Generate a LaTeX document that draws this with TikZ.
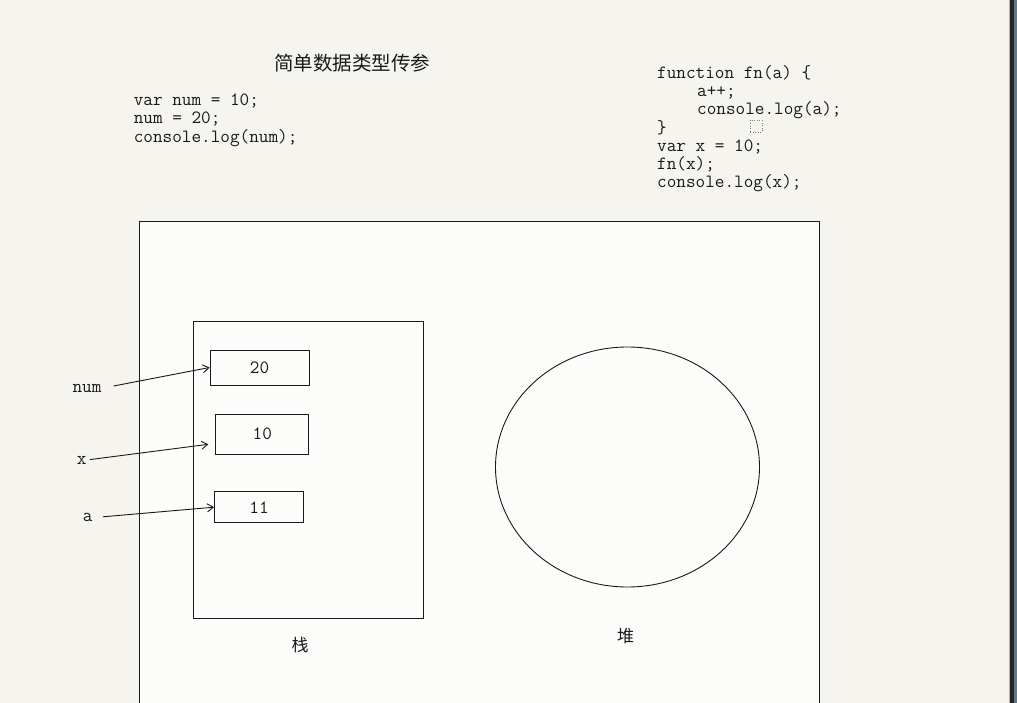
\documentclass[tikz,border=0pt]{standalone}
\usepackage{fontspec}
\newfontfamily\cjk{Noto Sans CJK SC}
\usetikzlibrary{arrows.meta, shapes.geometric}
\definecolor{paper}{RGB}{245,244,238}
\definecolor{sheet}{RGB}{252,253,250}
\definecolor{ink}{RGB}{25,25,25}
\definecolor{frame}{RGB}{100,118,140}
\newcommand\codefont{\ttfamily\addfontfeatures{FakeBold=0.6}\fontsize{18.7}{18.3}\selectfont}
\tikzset{
    >={Straight Barb[length=6pt, width=8pt]}, % open arrow heads
    every node/.style={text=ink},
    code/.style={anchor=base west, inner sep=0pt, font=\codefont}, % one line of code
    cell/.style={draw=ink, fill=sheet, font=\codefont}, % a value on the stack
    var/.style={anchor=base, inner sep=0pt, font=\codefont}, % variable name
    zh/.style={font=\cjk\fontsize{17}{17}\selectfont},
}
\begin{document}
\begin{tikzpicture}[x=1pt, y=-1pt, line width=0.9pt]
    \fill[paper] (0,0) rectangle (1017,703);
    \useasboundingbox (0,0) rectangle (1017,703);
    % window edge
    \fill[gray!60] (1009,0) rectangle (1010,703);
    \fill[black!85] (1010,0) rectangle (1014,703);
    \fill[frame] (1014,0) rectangle (1017,703);

    % title and code
    \node[zh, font=\cjk\fontsize{19.5}{19.5}\selectfont] (title) at (352,63.5) {简单数据类型传参};
    \foreach \txt [count=\i] in {var num = 10;, num = 20;, console.log(num);}
        \node[code] (simple\i) at (133.3, 87.2+18.3*\i) {\txt};
    \foreach \dx/\txt [count=\i] in {0/function fn(a) \{, 40/a++;, 40/console.log(a);, 0/\}, 0/var x = 10;, 0/fn(x);, 0/console.log(x);}
        \node[code] (fn\i) at (656.7+\dx, 60.1+18.25*\i) {\txt};
    \node[draw=gray, dotted, line width=0.6pt, minimum size=12, inner sep=0pt] (caret) at (756,126) {};

    % memory
    \draw[ink, fill=sheet] (139,703) -- (139,221) -- (819,221) -- (819,703);
    \node[draw=ink, minimum width=230, minimum height=297] (stack) at (308,469.5) {};
    \node[cell, minimum width=99, minimum height=35] (b20) at (259.5,367.5) {20};
    \node[cell, minimum width=93, minimum height=40] (b10) at (262.3,434.2) {10};
    \node[cell, minimum width=89, minimum height=31] (b11) at (259,507.2) {11};
    \node[draw=ink, ellipse, minimum width=264, minimum height=240, inner sep=0pt] (heap) at (627.5,467) {};
    \node[zh] (stacklbl) at (300,645) {栈};
    \node[zh] (heaplbl) at (625.7,636) {堆};

    % variables pointing at their values
    \node[var] (vnum) at (87,392.3) {num};
    \node[var] (vx) at (81.7,464) {x};
    \node[var] (va) at (87.7,521.7) {a};
    \coordinate (xend) at (208.3,444.3);
    \draw[->, ink, shorten <=12pt] (vnum.east) -- (b20.west);
    \draw[->, ink, shorten <=3pt] (vx.east) -- (xend);
    \draw[->, ink, shorten <=10pt] (va.east) -- (b11.west);
\end{tikzpicture}
\end{document}
